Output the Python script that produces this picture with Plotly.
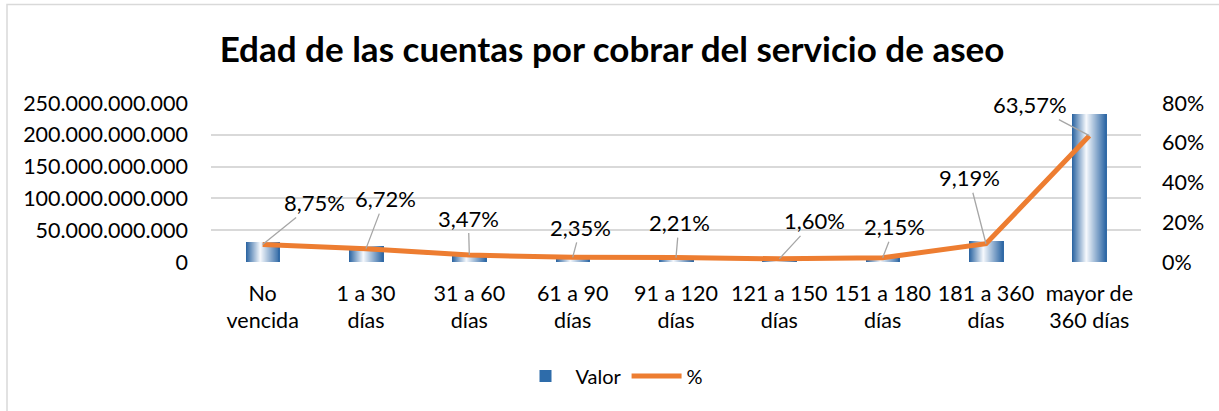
import plotly.graph_objects as go

# ---- data ----
categories = ["No<br>vencida", "1 a 30<br>días", "31 a 60<br>días", "61 a 90<br>días",
              "91 a 120<br>días", "121 a 150<br>días", "151 a 180<br>días",
              "181 a 360<br>días", "mayor de<br>360 días"]
valor = [32.0e9, 24.6e9, 12.7e9, 8.6e9, 8.1e9, 5.9e9, 7.9e9, 33.6e9, 232.7e9]
pct = [8.75, 6.72, 3.47, 2.35, 2.21, 1.60, 2.15, 9.19, 63.57]
left_ticks = [0, 50e9, 100e9, 150e9, 200e9, 250e9]
right_ticks = [0, 20, 40, 60, 80]
right_tick_text = ["0%", "20%", "40%", "60%", "80%"]

# ---- layout helpers (pixel geometry of the plot area) ----
W, H = 1219, 411
L, R, T, B = 211, 1141, 103, 262


def px(x):
    return (x - L) / (R - L)


def py(y):
    return (B - y) / (B - T)


FONT = "Lato"
TICK_SIZE = 21.5
BAR_W = 0.33
N_STRIPS = 34
DARK_L = (40, 98, 160)
WHITE = (246, 249, 253)
DARK_R = (44, 102, 164)
WHITE_POS = 0.42


def strip_color(t):
    if t <= WHITE_POS:
        u = t / WHITE_POS
        a, b = DARK_L, WHITE
    else:
        u = (t - WHITE_POS) / (1 - WHITE_POS)
        a, b = WHITE, DARK_R
    c = [round(a[k] + (b[k] - a[k]) * u) for k in range(3)]
    return f"rgb({c[0]},{c[1]},{c[2]})"


fig = go.Figure()

sw = BAR_W / N_STRIPS
for i in range(N_STRIPS):
    t = (i + 0.5) / N_STRIPS
    width = sw * 2.0 if i < N_STRIPS - 1 else sw
    fig.add_trace(go.Bar(
        x=categories, y=valor,
        width=width, offset=-BAR_W / 2 + i * sw,
        marker=dict(color=strip_color(t), line=dict(width=0)),
        name="Valor", showlegend=False, hoverinfo="skip",
    ))

# legend entry for bars (dark blue swatch)
fig.add_trace(go.Bar(
    x=categories, y=[None] * len(categories), name="Valor",
    marker=dict(color="rgb(46,108,170)", line=dict(width=0)), showlegend=True,
))

fig.add_trace(go.Scatter(
    x=categories, y=pct, yaxis="y2", mode="lines", name="%",
    line=dict(color="#ED7D31", width=5),
))

# data labels
offsets = [(52, -42), (19, -50), (-1, -37), (8, -30), (3, -35),
           (35, -38), (12, -31), (-17, -66), (-59, -31)]
for c, p, (ax, ay) in zip(categories, pct, offsets):
    fig.add_annotation(
        x=c, y=p, xref="x", yref="y2",
        text=f"{p:.2f}".replace(".", ",") + "%",
        showarrow=True, arrowhead=0, arrowwidth=1.3, arrowcolor="#a6a6a6",
        ax=ax, ay=ay, standoff=0,
        font=dict(family=FONT, size=22, color="#000000"),
    )

# chart border
fig.add_shape(type="rect", xref="paper", yref="paper",
              x0=px(7), x1=px(1240), y0=py(430), y1=py(4.5),
              line=dict(color="#d9d9d9", width=1.5), fillcolor="rgba(0,0,0,0)",
              layer="below")

fig.update_layout(
    width=W, height=H,
    margin=dict(l=L, r=W - R, t=T, b=H - B, autoexpand=False),
    paper_bgcolor="white", plot_bgcolor="white",
    separators=",.",
    barmode="overlay",
    bargap=0,
    title=dict(text="<b>Edad de las cuentas por cobrar del servicio de aseo</b>",
               x=612 / W, xanchor="center", y=1 - 50 / H, yanchor="middle",
               xref="container", yref="container",
               font=dict(family=FONT, size=35, color="#000000")),
    font=dict(family=FONT, size=TICK_SIZE, color="#000000"),
    xaxis=dict(type="category", showgrid=False, showline=False, zeroline=False,
               ticks="", tickfont=dict(family=FONT, size=TICK_SIZE, color="#000000"),
               ticklabelstandoff=16),
    yaxis=dict(range=[0, 250e9], tickvals=left_ticks, tickformat=",d",
               showgrid=True, gridcolor="#d9d9d9", gridwidth=1.5,
               zeroline=False, showline=False, ticks="",
               tickfont=dict(family=FONT, size=TICK_SIZE, color="#000000"),
               ticklabelstandoff=22),
    yaxis2=dict(range=[0, 80], tickmode="array", tickvals=right_ticks,
                ticktext=right_tick_text,
                overlaying="y", side="right", showgrid=False, zeroline=False,
                showline=False, ticks="",
                tickfont=dict(family=FONT, size=TICK_SIZE, color="#000000"),
                ticklabelstandoff=20),
    legend=dict(orientation="h", x=px(612), xanchor="center", y=py(376),
                yanchor="middle", font=dict(family=FONT, size=20, color="#000000"),
                bgcolor="rgba(0,0,0,0)", itemwidth=50, traceorder="normal"),
    showlegend=True,
)

fig.write_html("out.html",
               config={"displayModeBar": False},
               post_script="document.body.style.margin='0';"
                           "document.body.style.overflow='hidden';")
